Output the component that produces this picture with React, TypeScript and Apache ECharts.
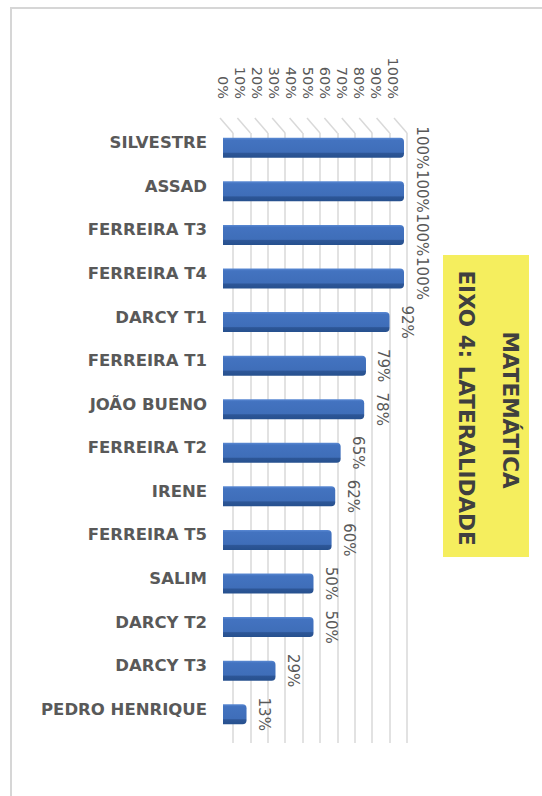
import React, { useEffect, useRef } from "react";
import * as echarts from "echarts";

const categories = [
  "SILVESTRE",
  "ASSAD",
  "FERREIRA T3",
  "FERREIRA T4",
  "DARCY T1",
  "FERREIRA T1",
  "JOÃO BUENO",
  "FERREIRA T2",
  "IRENE",
  "FERREIRA T5",
  "SALIM",
  "DARCY T2",
  "DARCY T3",
  "PEDRO HENRIQUE",
];
const values = [100, 100, 100, 100, 92, 79, 78, 65, 62, 60, 50, 50, 29, 13];
const tickValues = [0, 10, 20, 30, 40, 50, 60, 70, 80, 90, 100];
const titleLines = ["MATEMÁTICA", "EIXO 4: LATERALIDADE"];

export default function App() {
  const ref = useRef<HTMLDivElement>(null);
  useEffect(() => {
    if (!ref.current) return;
    const chart = echarts.init(ref.current, undefined, { renderer: "svg" });
    const gray = "#595959";
    const font = "DejaVu Sans";
    const option: any = {
      animation: false,
      backgroundColor: "#ffffff",
      textStyle: { fontFamily: font },
      grid: [
        { left: 223, top: 126, width: 181, height: 610 },
        { left: 233, top: 133, width: 174, height: 610 },
        { left: 223, top: 101, width: 170, height: 1 },
        { left: 223, top: 121, width: 181, height: 610 },
      ],
      xAxis: [
        { type: "value", gridIndex: 0, min: 0, max: 100, show: false },
        {
          type: "value",
          gridIndex: 1,
          min: 0,
          max: 100,
          interval: 10,
          axisLabel: { show: false },
          axisLine: { show: false },
          axisTick: { show: false },
          splitLine: { show: true, lineStyle: { color: "#d9d9d9", width: 1.5 } },
        },
        {
          type: "value",
          gridIndex: 2,
          position: "top",
          min: 0,
          max: 100,
          interval: 10,
          axisLabel: {
            rotate: -90,
            margin: 2,
            fontSize: 14.5,
            fontFamily: font,
            color: gray,
            formatter: "{value}%",
          },
          axisLine: { show: false },
          axisTick: { show: false },
          splitLine: { show: false },
        },
        { type: "value", gridIndex: 3, min: 0, max: 100, show: false },
      ],
      yAxis: [
        {
          type: "category",
          gridIndex: 0,
          data: categories,
          inverse: true,
          show: false,
        },
        { type: "value", gridIndex: 1, min: 0, max: 1, show: false },
        { type: "value", gridIndex: 2, min: 0, max: 1, show: false },
        {
          type: "category",
          gridIndex: 3,
          data: categories,
          inverse: true,
          axisLine: { show: false },
          axisTick: { show: false },
          splitLine: { show: false },
          axisLabel: {
            margin: 16,
            fontSize: 16.5,
            fontWeight: "bold",
            fontFamily: font,
            color: gray,
          },
        },
      ],
      series: [
        {
          type: "custom",
          xAxisIndex: 1,
          yAxisIndex: 1,
          silent: true,
          clip: false,
          data: tickValues.map((v) => [v, 1]),
          renderItem: (params: any, api: any) => {
            const p = api.coord([api.value(0), api.value(1)]);
            return {
              type: "line",
              shape: { x1: p[0], y1: p[1], x2: p[0] - 13, y2: p[1] - 15 },
              style: { stroke: "#d9d9d9", lineWidth: 1.5 },
            };
          },
          z: 1,
        },
        {
          type: "bar",
          xAxisIndex: 0,
          yAxisIndex: 0,
          data: values,
          barWidth: 20,
          z: 3,
          itemStyle: {
            borderRadius: [0, 4, 4, 0],
            color: new echarts.graphic.LinearGradient(0, 0, 0, 1, [
              { offset: 0, color: "#5B8AD4" },
              { offset: 0.12, color: "#4373C0" },
              { offset: 0.72, color: "#3F6EB9" },
              { offset: 0.78, color: "#2D5697" },
              { offset: 1, color: "#26508E" },
            ]),
          },
          label: {
            show: true,
            position: "right",
            distance: 10,
            rotate: -90,
            align: "center",
            verticalAlign: "bottom",
            fontSize: 15,
            fontFamily: font,
            color: gray,
            formatter: "{c}%",
          },
        },
      ],
      graphic: [
        {
          type: "rect",
          silent: true,
          shape: { x: 11, y: 8, width: 700, height: 900 },
          style: { fill: "none", stroke: "#d6d6d6", lineWidth: 2 },
          z: 0,
        },
        {
          type: "rect",
          shape: { x: 443, y: 255, width: 86, height: 302 },
          style: { fill: "#F5EE5E" },
          z: 5,
        },
        {
          type: "text",
          x: 510,
          y: 410,
          rotation: -Math.PI / 2,
          style: {
            text: titleLines[0],
            fontSize: 21.5,
            fontWeight: "bold",
            fontFamily: font,
            fill: "#3f3f3f",
            align: "center",
            verticalAlign: "middle",
          },
          z: 6,
        },
        {
          type: "text",
          x: 466,
          y: 408,
          rotation: -Math.PI / 2,
          style: {
            text: titleLines[1],
            fontSize: 21.5,
            fontWeight: "bold",
            fontFamily: font,
            fill: "#3f3f3f",
            align: "center",
            verticalAlign: "middle",
          },
          z: 6,
        },
      ],
    };
    chart.setOption(option);
    return () => chart.dispose();
  }, []);
  return (
    <div
      ref={ref}
      style={{ position: "absolute", left: 0, top: 0, width: 542, height: 796 }}
    />
  );
}
